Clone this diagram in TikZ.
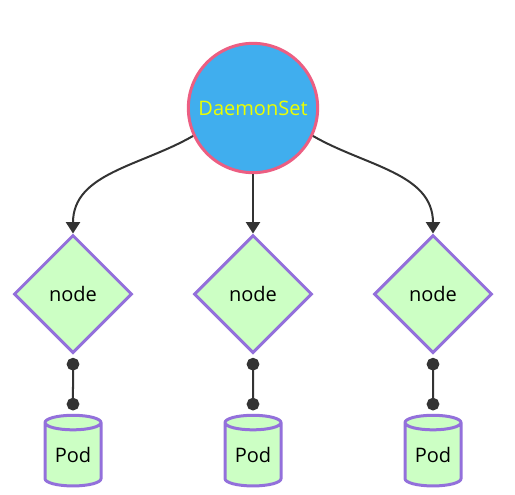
\documentclass[tikz,border=0pt]{standalone}
\usepackage{fontspec}
\setmainfont{Open Sans}
\usetikzlibrary{shapes.geometric,arrows.meta}

\definecolor{dsblue}{RGB}{64,174,238}
\definecolor{dspink}{RGB}{236,94,130}
\definecolor{dsyellow}{RGB}{236,255,0}
\definecolor{nodegreen}{RGB}{204,255,196}
\definecolor{nodepurple}{RGB}{147,112,219}
\definecolor{linkgray}{RGB}{51,51,51}

\begin{document}
\begin{tikzpicture}[x=0.75pt, y=-0.75pt,
    every node/.style={font=\fontsize{15}{18}\selectfont},
    daemon/.style={circle, draw=dspink, fill=dsblue, line width=2.25pt,
        minimum size=97pt, inner sep=0pt, text=dsyellow},
    machine/.style={diamond, draw=nodepurple, fill=nodegreen, line width=2.25pt,
        minimum width=88.5pt, minimum height=88.5pt, inner sep=0pt, aspect=1},
    pod/.style={cylinder, shape border rotate=90, draw=nodepurple, fill=nodegreen,
        line width=2.25pt, minimum width=42pt, minimum height=53pt, inner sep=0pt,
        aspect=0.4},
    link/.style={draw=linkgray, line width=1.5pt, -{Triangle[length=8.5pt,width=10.5pt]}},
    dotlink/.style={draw=linkgray, line width=1.5pt,
        {Circle[length=9.5pt]}-{Circle[length=9.5pt]},
        shorten <=2.5pt, shorten >=2.5pt}]
        \useasboundingbox (0,0) rectangle (515,494);

        % daemonset
        \node[daemon] (ds) at (253,108) {DaemonSet};

        % nodes
        \node[machine] (n1) at (73,294) {node};
        \node[machine] (n2) at (253,294) {node};
        \node[machine] (n3) at (433,294) {node};

        % pods
        \node[pod] (p1) at (73,455) {Pod};
        \node[pod] (p2) at (253,455) {Pod};
        \node[pod] (p3) at (433,455) {Pod};

        \draw[link] (ds.205) to[out=210, in=90] (n1.north);
        \draw[link] (ds) -- (n2);
        \draw[link] (ds.335) to[out=330, in=90] (n3.north);

        \draw[dotlink] (n1.south) -- (p1.north);
        \draw[dotlink] (n2.south) -- (p2.north);
        \draw[dotlink] (n3.south) -- (p3.north);
    \end{tikzpicture}
\end{document}
